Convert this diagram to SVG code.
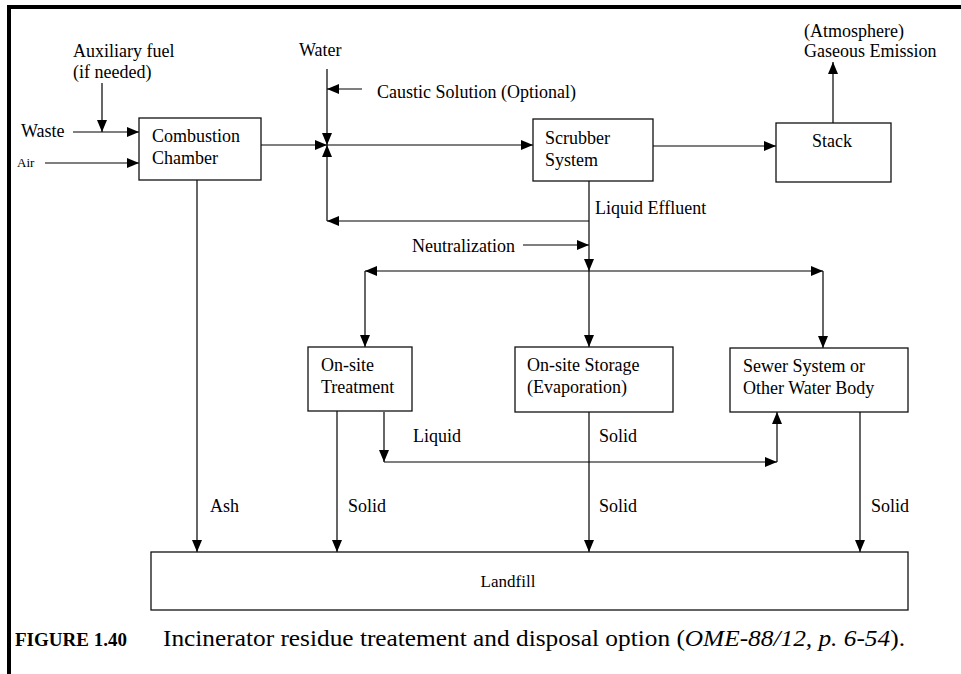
<svg xmlns="http://www.w3.org/2000/svg" width="961" height="674" viewBox="0 0 961 674">
  <defs>
    <marker id="ah" viewBox="0 0 12 10" refX="12" refY="5" markerWidth="12" markerHeight="10" markerUnits="userSpaceOnUse" orient="auto">
      <path d="M0,0 L12,5 L0,10 Z" fill="#000"/>
    </marker>
    <style>
      text { font-family: "Liberation Serif", "Times New Roman", serif; font-size: 18px; fill: #000; }
      .box { fill: #fff; stroke: #111; stroke-width: 1.3; }
      .arr { fill: none; stroke: #000; stroke-width: 1.2; marker-end: url(#ah); }
      .small { font-size: 13px; }
      .cap { font-size: 23px; }
      .capb { font-size: 19px; font-weight: bold; }
    </style>
  </defs>
  <rect width="961" height="674" fill="#fff"/>

  <!-- page frame -->
  <rect x="7" y="5" width="954" height="4" fill="#000"/>
  <rect x="7" y="5" width="4" height="669" fill="#000"/>

  <!-- connectors -->
  <g id="connectors">
    <line class="arr" x1="102" y1="83" x2="102" y2="132"/>
    <line class="arr" x1="73" y1="132" x2="139" y2="132"/>
    <line class="arr" x1="45" y1="163" x2="139" y2="163"/>
    <line class="arr" x1="261" y1="145" x2="327" y2="145"/>
    <line class="arr" x1="327" y1="69" x2="327" y2="145"/>
    <line class="arr" x1="362" y1="89" x2="327" y2="89"/>
    <line class="arr" x1="327" y1="145" x2="533" y2="145"/>
    <line class="arr" x1="653" y1="146" x2="776" y2="146"/>
    <line class="arr" x1="833" y1="123" x2="833" y2="62"/>
    <!-- scrubber drain and recycle loop -->
    <line class="arr" x1="589" y1="181" x2="589" y2="271"/>
    <line class="arr" x1="589" y1="221" x2="327" y2="221"/>
    <line class="arr" x1="327" y1="221" x2="327" y2="145"/>
    <line class="arr" x1="523" y1="245" x2="589" y2="245"/>
    <!-- distribution header -->
    <line class="arr" x1="589" y1="271" x2="365" y2="271"/>
    <line class="arr" x1="365" y1="271" x2="365" y2="347"/>
    <line class="arr" x1="589" y1="271" x2="823" y2="271"/>
    <line class="arr" x1="823" y1="271" x2="823" y2="348"/>
    <line class="arr" x1="589" y1="271" x2="589" y2="347"/>
    <!-- treated liquid to sewer -->
    <line class="arr" x1="384" y1="412" x2="384" y2="462"/>
    <line class="arr" x1="384" y1="462" x2="777" y2="462"/>
    <line class="arr" x1="777" y1="462" x2="777" y2="412"/>
    <!-- solids to landfill -->
    <line class="arr" x1="197" y1="180" x2="197" y2="552"/>
    <line class="arr" x1="337" y1="411" x2="337" y2="552"/>
    <line class="arr" x1="589" y1="412" x2="589" y2="552"/>
    <line class="arr" x1="860" y1="412" x2="860" y2="552"/>
  </g>

  <!-- stream labels -->
  <g id="labels">
    <text x="73" y="57">Auxiliary fuel</text>
    <text x="73" y="78">(if needed)</text>
    <text x="21" y="137">Waste</text>
    <text class="small" x="17" y="167">Air</text>
    <text x="299" y="56">Water</text>
    <text x="377" y="98">Caustic Solution (Optional)</text>
    <text x="804" y="37">(Atmosphere)</text>
    <text x="804" y="57">Gaseous Emission</text>
    <text x="595" y="214">Liquid Effluent</text>
    <text x="412" y="252">Neutralization</text>
    <text x="413" y="442">Liquid</text>
    <text x="599" y="442">Solid</text>
    <text x="210" y="512">Ash</text>
    <text x="348" y="512">Solid</text>
    <text x="599" y="512">Solid</text>
    <text x="871" y="512">Solid</text>
  </g>

  <g id="combustion">
    <rect class="box" x="139" y="118" width="122" height="62"/>
    <text x="152" y="142">Combustion</text>
    <text x="152" y="164">Chamber</text>
  </g>
  <g id="scrubber">
    <rect class="box" x="533" y="119" width="120" height="62"/>
    <text x="545" y="144">Scrubber</text>
    <text x="545" y="166">System</text>
  </g>
  <g id="stack">
    <rect class="box" x="776" y="123" width="115" height="59"/>
    <text x="812" y="147">Stack</text>
  </g>
  <g id="treatment">
    <rect class="box" x="308" y="347" width="104" height="64"/>
    <text x="321" y="371">On-site</text>
    <text x="321" y="393">Treatment</text>
  </g>
  <g id="storage">
    <rect class="box" x="515" y="347" width="158" height="65"/>
    <text x="527" y="371">On-site Storage</text>
    <text x="527" y="393">(Evaporation)</text>
  </g>
  <g id="sewer">
    <rect class="box" x="730" y="348" width="178" height="64"/>
    <text x="743" y="372">Sewer System or</text>
    <text x="743" y="394">Other Water Body</text>
  </g>
  <g id="landfill">
    <rect class="box" x="151" y="552" width="757" height="58"/>
    <text x="508" y="587" text-anchor="middle" style="font-size:17px">Landfill</text>
  </g>

  <!-- caption -->
  <g id="caption">
    <text class="capb" x="15" y="646">FIGURE 1.40</text>
    <text class="cap" x="163" y="646" textLength="742" lengthAdjust="spacingAndGlyphs">Incinerator residue treatement and disposal option (<tspan font-style="italic">OME-88/12, p. 6-54</tspan>).</text>
  </g>
</svg>
